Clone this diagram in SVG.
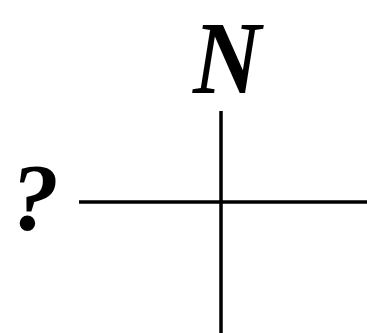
<svg xmlns="http://www.w3.org/2000/svg" width="367" height="333" viewBox="0 0 367 333">
<style>
.ln{stroke:#000;stroke-width:3.5;fill:none}
.lbl{font-family:"Liberation Serif","DejaVu Serif",serif;font-weight:bold;font-style:italic;fill:#000}
</style>
<rect width="367" height="333" fill="#fff"/>
<g id="connectors">
<line class="ln" x1="221" y1="111" x2="221" y2="333"/>
<line class="ln" x1="79" y1="202" x2="367" y2="202"/>
</g>
<g id="north"><text class="lbl" x="193" y="93" font-size="104" textLength="68" lengthAdjust="spacingAndGlyphs">N</text></g>
<g id="west"><text class="lbl" x="35" y="230" font-size="96" text-anchor="middle">?</text></g>
</svg>
